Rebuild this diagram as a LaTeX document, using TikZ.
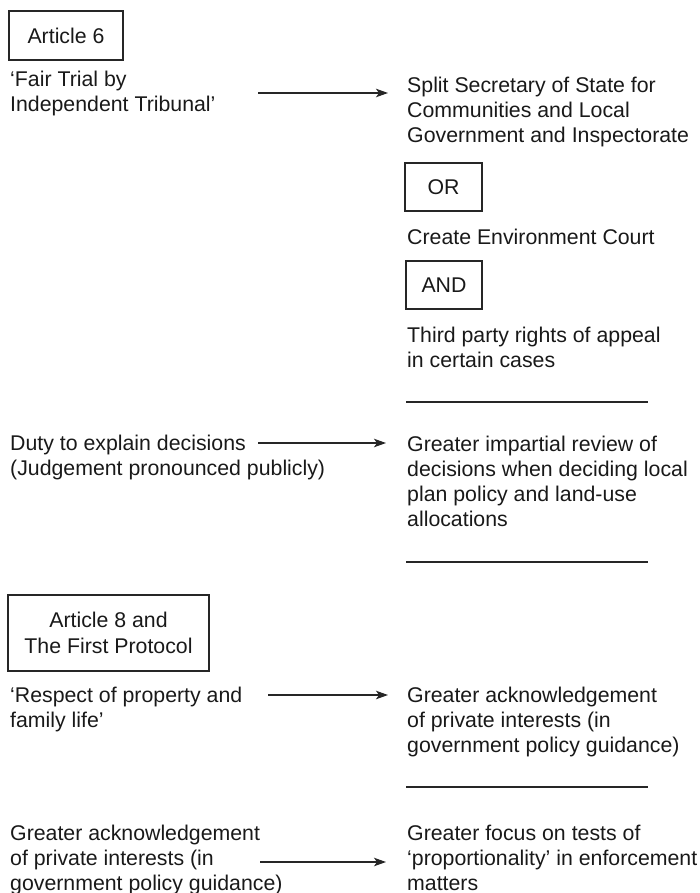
\documentclass[tikz,border=0pt]{standalone}
\usepackage{fontspec}
\setmainfont{Liberation Sans}
\usetikzlibrary{arrows.meta}
\begin{document}
\begin{tikzpicture}[x=1pt,y=-1pt,
  % text blocks are placed by the baseline of their last line
  txt/.style={inner sep=0pt, anchor=base west, align=left, text=black!90,
              font=\fontsize{21.3}{25}\selectfont},
  box/.style={draw=black!85, line width=1.2pt, inner sep=0pt, align=center,
              text=black!90, font=\fontsize{21.3}{26}\selectfont},
  arrowline/.style={draw=black!85, line width=1.2pt,
              -{Stealth[length=12pt,width=8.5pt,inset=3pt]}},
  rule/.style={draw=black!85, line width=1.2pt}]
\useasboundingbox (0,0) rectangle (699,893);

% --- Article 6 ---
\node[box, minimum width=114pt, minimum height=49pt] (art6) at (66,35.5) {Article 6};
\node[txt] (fair) at (10,112) {‘Fair Trial by\\Independent Tribunal’};
\node[txt] (split) at (407,143) {Split Secretary of State for\\Communities and Local\\Government and Inspectorate};
\coordinate (a1s) at (258,93);
\coordinate (a1e) at (388,93);
\draw[arrowline] (a1s) -- (a1e);

\node[box, minimum width=77pt, minimum height=48pt] (or) at (443.5,187) {OR};
\node[txt] (create) at (407,244) {Create Environment Court};
\node[box, minimum width=76pt, minimum height=48pt] (and) at (444,285) {AND};
\node[txt] (third) at (407,367) {Third party rights of appeal\\in certain cases};

\coordinate (r1a) at (406,402);
\coordinate (r1b) at (648,402);
\draw[rule] (r1a) -- (r1b);

\node[txt] (duty) at (10,475) {Duty to explain decisions\\(Judgement pronounced publicly)};
\node[txt] (review) at (407,526) {Greater impartial review of\\decisions when deciding local\\plan policy and land-use\\allocations};
\coordinate (a2s) at (258,443);
\coordinate (a2e) at (386,443);
\draw[arrowline] (a2s) -- (a2e);

\coordinate (r2a) at (406,562);
\coordinate (r2b) at (648,562);
\draw[rule] (r2a) -- (r2b);

% --- Article 8 and the First Protocol ---
\node[box, minimum width=201pt, minimum height=76pt] (art8) at (108.5,633) {Article 8 and\\The First Protocol};
\node[txt] (respect) at (10,727) {‘Respect of property and\\family life’};
\node[txt] (ackr) at (407,752) {Greater acknowledgement\\of private interests (in\\government policy guidance)};
\coordinate (a3s) at (268,695);
\coordinate (a3e) at (388,695);
\draw[arrowline] (a3s) -- (a3e);

\coordinate (r3a) at (406,787);
\coordinate (r3b) at (648,787);
\draw[rule] (r3a) -- (r3b);

\node[txt] (ackl) at (10,890) {Greater acknowledgement\\of private interests (in\\government policy guidance)};
\node[txt] (focus) at (407,890) {Greater focus on tests of\\‘proportionality’ in enforcement\\matters};
\coordinate (a4s) at (260,862);
\coordinate (a4e) at (386,862);
\draw[arrowline] (a4s) -- (a4e);
\end{tikzpicture}
\end{document}
